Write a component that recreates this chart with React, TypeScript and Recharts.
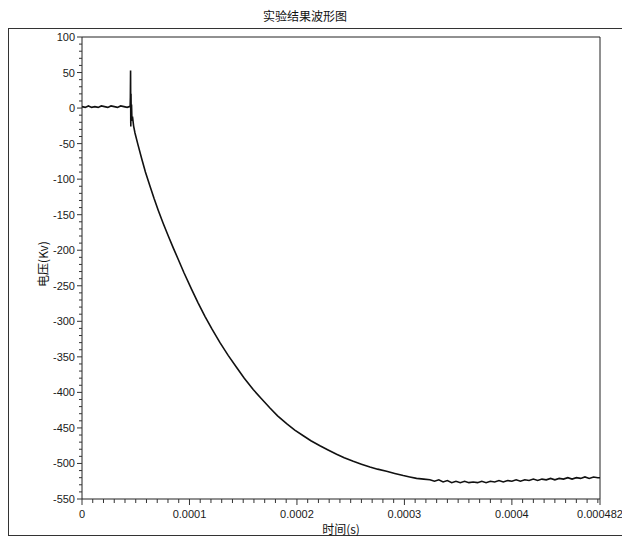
import React from 'react';
import { LineChart, Line, XAxis, YAxis, ReferenceArea } from 'recharts';

// time in microseconds, voltage in kV
const TIME_US = [
  0, 3, 6, 9, 12, 15, 18, 21, 24, 27, 30, 33, 36, 39, 42, 44, 44.8,
  45.0, 45.2, 45.4, 45.6, 45.8, 46.1, 46.5, 47, 48, 49.3,
  52, 55.5, 59, 63.3, 67, 71, 75.5, 80.3, 85, 89.6, 95, 102, 108, 114.4,
  121, 128.4, 136, 143.9, 151, 159.3, 167, 174.9, 182, 190.4, 198, 205.9,
  213, 221.4, 229, 236.9, 244, 252.4, 260, 267.9, 275, 283.4, 291, 298.9,
  305, 311.3, 318, 323.7,
  328, 332, 336, 340, 344, 348, 352, 356, 360, 364, 368, 372, 376, 380,
  384, 388, 392, 396, 400, 404, 408, 412, 416, 420, 424, 428, 432, 436,
  440, 444, 448, 452, 456, 460, 464, 468, 472, 476, 480, 482,
];

const VOLTAGE_KV = [
  2, 1, 3, 1, 2, 1, 3, 2, 1, 3, 2, 1, 3, 2, 1, 2, 2,
  15, 53, -26, 20, -10, 5, -18, -12, -25, -35,
  -51, -71, -90, -110, -127, -144, -162, -180, -197, -213, -232, -255, -274, -293,
  -311, -330, -348, -365, -380, -396, -409, -422, -433, -444, -453, -461,
  -468, -475, -481, -487, -492, -497, -501, -505, -508, -511, -514, -517,
  -519, -521, -522, -523,
  -525, -523, -526, -524, -527, -525, -527, -525, -527, -526, -527, -525, -527, -525,
  -526, -524, -526, -524, -525, -523, -525, -523, -524, -522, -524, -522, -523, -521,
  -523, -521, -522, -520, -522, -520, -521, -519, -521, -519, -520, -520,
];

const X_MAJOR = [0, 100, 200, 300, 400, 482];
const X_LABELS = ['0', '0.0001', '0.0002', '0.0003', '0.0004', '0.000482'];
const Y_MAJOR = [100, 50, 0, -50, -100, -150, -200, -250, -300, -350, -400, -450, -500, -550];

const data = TIME_US.map((t, i) => ({ t, v: VOLTAGE_KV[i] }));

const xTicks: number[] = [];
for (let i = 0; i <= 48; i++) xTicks.push(i * 10);
xTicks.push(482);

const yTicks: number[] = [];
for (let v = -550; v <= 100; v += 10) yTicks.push(v);

const tickFont = { fontFamily: '"Liberation Sans", Arial, sans-serif', fontSize: 11, fill: '#1a1a1a' };

const XTick = (props: any) => {
  const { x, y, payload } = props;
  const idx = X_MAJOR.indexOf(payload.value);
  const major = idx >= 0;
  return (
    <g>
      <line x1={x} x2={x} y1={y} y2={y + (major ? 6 : 4)} stroke="#333" strokeWidth={1} />
      {major && (
        <text x={x} y={y + 19} textAnchor="middle" {...tickFont}>
          {X_LABELS[idx]}
        </text>
      )}
    </g>
  );
};

const YTick = (props: any) => {
  const { x, y, payload } = props;
  const major = Y_MAJOR.includes(payload.value);
  return (
    <g>
      <line x1={x} x2={x - (major ? 5 : 3)} y1={y} y2={y} stroke="#333" strokeWidth={1} />
      {major && (
        <text x={x - 7} y={y} textAnchor="end" dominantBaseline="central" {...tickFont}>
          {payload.value}
        </text>
      )}
    </g>
  );
};

export default function App() {
  return (
    <div
      style={{
        position: 'absolute',
        left: 0,
        top: 0,
        width: 622,
        height: 536,
        background: '#fff',
        overflow: 'hidden',
        fontFamily: '"Noto Sans CJK SC", sans-serif',
      }}
    >
      <div
        style={{
          position: 'absolute',
          left: 0,
          top: 7,
          width: 610,
          textAlign: 'center',
          fontSize: 12,
          color: '#111',
        }}
      >
        实验结果波形图
      </div>
      <div
        style={{
          position: 'absolute',
          left: 8,
          top: 28,
          width: 640,
          height: 506,
          border: '1.5px solid #333',
        }}
      />
      <div style={{ position: 'absolute', left: 0, top: 0 }}>
        <LineChart width={622} height={536} data={data} margin={{ top: 37, right: 22, bottom: 7, left: 8 }}>
          <XAxis
            dataKey="t"
            type="number"
            domain={[0, 482]}
            ticks={xTicks}
            interval={0}
            height={30}
            tickSize={0}
            tickMargin={0}
            axisLine={false}
            tickLine={false}
            tick={<XTick />}
          />
          <YAxis
            type="number"
            domain={[-550, 100]}
            ticks={yTicks}
            interval={0}
            width={74}
            tickSize={0}
            tickMargin={0}
            axisLine={false}
            tickLine={false}
            tick={<YTick />}
          />
          <ReferenceArea x1={0} x2={482} y1={-550} y2={100} fill="none" stroke="#222" strokeWidth={1} />
          <Line
            type="linear"
            dataKey="v"
            stroke="#111"
            strokeWidth={1.6}
            dot={false}
            isAnimationActive={false}
          />
        </LineChart>
      </div>
      <div
        style={{
          position: 'absolute',
          left: 42,
          top: 264,
          transform: 'translate(-50%, -50%) rotate(-90deg)',
          fontSize: 12,
          color: '#111',
          whiteSpace: 'nowrap',
        }}
      >
        电压(Kv)
      </div>
      <div
        style={{
          position: 'absolute',
          left: 341,
          top: 528,
          transform: 'translate(-50%, -50%)',
          fontSize: 12,
          color: '#111',
          whiteSpace: 'nowrap',
        }}
      >
        时间(s)
      </div>
    </div>
  );
}
